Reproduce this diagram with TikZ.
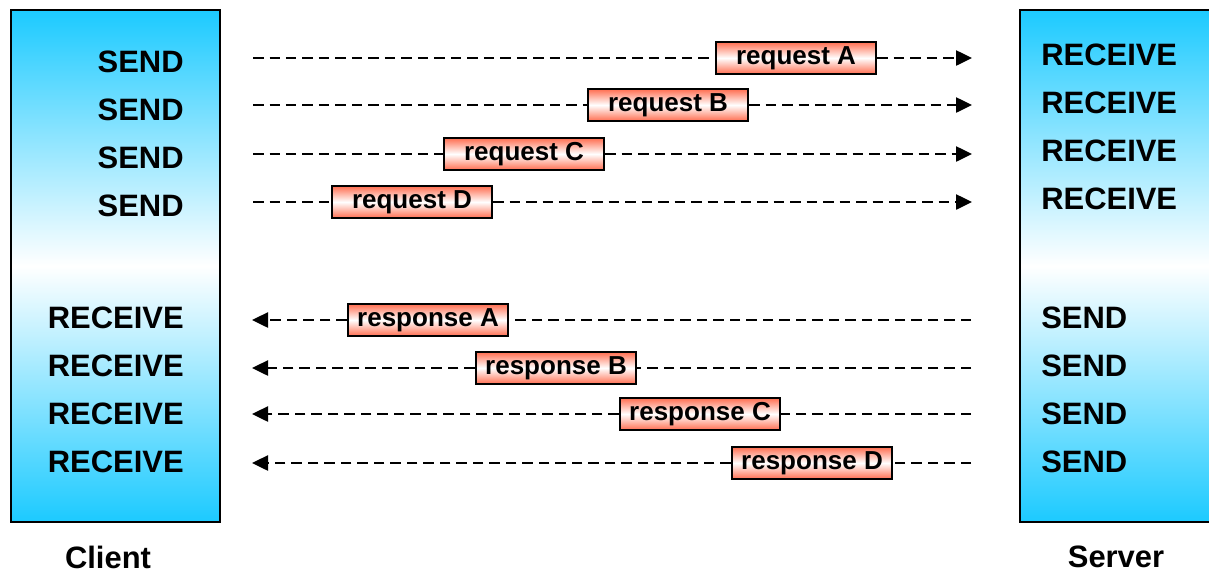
\documentclass[tikz,border=0pt]{standalone}
\usepackage{fontspec}
\setmainfont{Liberation Sans}
\usetikzlibrary{arrows.meta}
\definecolor{hostcyan}{RGB}{28,202,255}
\definecolor{tagred}{RGB}{255,108,78}

\begin{document}
\begin{tikzpicture}[x=0.02cm,y=-0.02cm,
	host/.style={draw,line width=0.045cm,top color=hostcyan,bottom color=hostcyan,middle color=white,minimum height=10.24cm},
	word/.style={font=\fontsize{17.6}{20}\selectfont\bfseries,inner sep=0pt},
	tag/.style={draw,line width=0.045cm,top color=tagred,bottom color=tagred,middle color=white,
		minimum width=3.2cm,minimum height=0.65cm,inner sep=0pt,font=\fontsize{14.8}{17}\selectfont\bfseries},
	msg/.style={dashed,dash pattern=on 0.21cm off 0.12cm,line width=0.05cm,-{Triangle[length=0.32cm,width=0.3cm]}}]
	\useasboundingbox (0,0) rectangle (1209,572);
	\node[host,minimum width=4.18cm] (client) at (115.5,266) {};
	\node[host,minimum width=3.9cm] (server) at (1117.5,266) {};
	\node[word] (clientname) at (108,557) {Client};
	\node[word] (servername) at (1116,557) {Server};
	\foreach \r/\ya/\yc/\ys/\xt in {A/58/62/55/796, B/105/110/103/668, C/154/158/151/524, D/202/206/199/412}
	{
		\node[word,anchor=east] (csend\r) at (184,\yc) {SEND};
		\node[word,anchor=west] (srecv\r) at (1041,\ys) {RECEIVE};
		\coordinate (qfrom\r) at (253,\ya);
		\coordinate (qto\r) at (972,\ya);
		\node[tag] (req\r) at (\xt,\ya) {request \r};
		\draw[msg] (qfrom\r) -- (req\r) -- (qto\r);
	}
	\foreach \r/\ya/\yc/\xt in {A/320/318/428, B/368/366/556, C/414/414/700, D/463/462/812}
	{
		\node[word,anchor=east] (crecv\r) at (184,\yc) {RECEIVE};
		\node[word,anchor=west] (ssend\r) at (1041,\yc) {SEND};
		\coordinate (pfrom\r) at (971,\ya);
		\coordinate (pto\r) at (252,\ya);
		\node[tag] (resp\r) at (\xt,\ya) {response \r};
		\draw[msg] (pfrom\r) -- (resp\r) -- (pto\r);
	}
\end{tikzpicture}
\end{document}
